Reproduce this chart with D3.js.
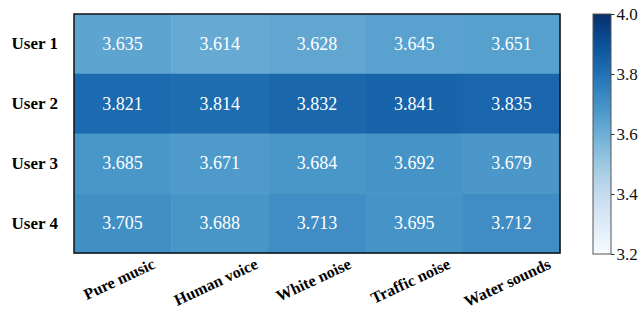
<!DOCTYPE html>
<html>
<head>
<meta charset="utf-8">
<script src="https://cdn.jsdelivr.net/npm/d3@7"></script>
<style>
  body { margin: 0; background: #fff; }
  svg { display: block; font-family: "Liberation Serif", "Times New Roman", serif; }
</style>
</head>
<body>
<svg width="644" height="312"></svg>
<script>
// data
const users = ["User 1", "User 2", "User 3", "User 4"];
const sounds = ["Pure music", "Human voice", "White noise", "Traffic noise", "Water sounds"];
const user1 = [3.635, 3.614, 3.628, 3.645, 3.651];
const user2 = [3.821, 3.814, 3.832, 3.841, 3.835];
const user3 = [3.685, 3.671, 3.684, 3.692, 3.679];
const user4 = [3.705, 3.688, 3.713, 3.695, 3.712];
const colorTicks = [3.2, 3.4, 3.6, 3.8, 4.0];

const rows = [user1, user2, user3, user4];
const cells = [];
rows.forEach((r, i) => r.forEach((v, j) => cells.push({ user: users[i], sound: sounds[j], value: v })));

const svg = d3.select("svg");
const margin = { top: 14, left: 74, right: 84, bottom: 59 };
const W = 644, H = 312;

const x = d3.scaleBand().domain(sounds).range([margin.left, W - margin.right]);
const y = d3.scaleBand().domain(users).range([margin.top, H - margin.bottom]);
const color = d3.scaleSequential(d3.interpolateBlues).domain([3.2, 4.0]);

// cells
svg.append("g").selectAll("rect")
  .data(cells)
  .join("rect")
  .attr("x", d => x(d.sound))
  .attr("y", d => y(d.user))
  .attr("width", x.bandwidth() + 0.5)
  .attr("height", y.bandwidth() + 0.5)
  .attr("fill", d => color(d.value));

svg.append("g").selectAll("text")
  .data(cells)
  .join("text")
  .attr("x", d => x(d.sound) + x.bandwidth() / 2)
  .attr("y", d => y(d.user) + y.bandwidth() / 2)
  .attr("text-anchor", "middle")
  .attr("dominant-baseline", "central")
  .attr("fill", "#fff")
  .attr("font-size", 18)
  .text(d => d.value.toFixed(3));

// frame
svg.append("rect")
  .attr("x", margin.left).attr("y", margin.top)
  .attr("width", W - margin.right - margin.left)
  .attr("height", H - margin.bottom - margin.top)
  .attr("fill", "none").attr("stroke", "#111").attr("stroke-width", 1.5);

// y labels
svg.append("g").selectAll("text")
  .data(users)
  .join("text")
  .attr("x", margin.left - 16)
  .attr("y", d => y(d) + y.bandwidth() / 2)
  .attr("text-anchor", "end")
  .attr("dominant-baseline", "central")
  .attr("font-weight", "bold")
  .attr("font-size", 17)
  .text(d => d);

// x labels, rotated 25deg, bbox centred under each column
const ang = 25 * Math.PI / 180;
svg.append("g").selectAll("text")
  .data(sounds)
  .join("text")
  .attr("text-anchor", "middle")
  .attr("dominant-baseline", "central")
  .attr("font-weight", "bold")
  .attr("font-size", 16)
  .text(d => d)
  .each(function (d) {
    const len = this.getComputedTextLength();
    const cyy = H - margin.bottom + 3 + (len * Math.sin(ang) + 15 * Math.cos(ang)) / 2;
    const cx = x(d) + x.bandwidth() / 2 - len * 0.045;
    d3.select(this).attr("transform", `translate(${cx},${cyy}) rotate(-25)`);
  });

// colorbar
const cbX = 593, cbW = 18;
const cy = d3.scaleLinear().domain([3.2, 4.0]).range([H - margin.bottom + 1, margin.top]);
const grad = svg.append("defs").append("linearGradient")
  .attr("id", "cbar").attr("x1", 0).attr("x2", 0).attr("y1", 1).attr("y2", 0);
d3.range(0, 1.0001, 0.05).forEach(t => {
  grad.append("stop").attr("offset", t).attr("stop-color", d3.interpolateBlues(t));
});
svg.append("rect")
  .attr("x", cbX).attr("y", cy(4.0))
  .attr("width", cbW).attr("height", cy(3.2) - cy(4.0))
  .attr("fill", "url(#cbar)")
  .attr("stroke", "#555").attr("stroke-width", 1);

const cAxis = svg.append("g")
  .attr("transform", `translate(${cbX + cbW},0)`)
  .call(d3.axisRight(cy).tickValues(colorTicks).tickFormat(d3.format(".1f")).tickSize(3.5).tickPadding(2));
cAxis.select(".domain").remove();
cAxis.selectAll("text").attr("font-size", 17).attr("fill", "#111")
  .style("font-family", "'Liberation Serif', serif");
cAxis.selectAll("line").attr("stroke", "#333");
</script>
</body>
</html>
